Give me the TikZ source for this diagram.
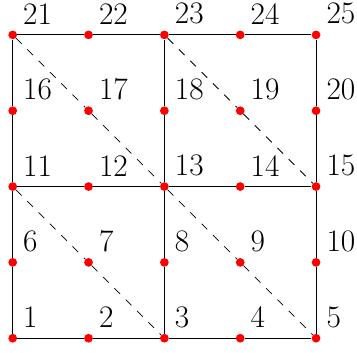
\documentclass[tikz,border=0pt]{standalone}
\begin{document}
\begin{tikzpicture}[x=2cm,y=2cm,
  dot/.style={circle, fill=red, inner sep=0pt, minimum size=0.23cm},
  num/.style={anchor=south west, inner sep=0.27cm, font=\fontsize{23.5}{28}\selectfont},
  edge/.style={line width=0.8pt},
  diag/.style={line width=0.6pt, dash pattern=on 6pt off 6pt}]
  \useasboundingbox (-0.335cm,-0.37cm) rectangle (9.08cm,8.92cm);
  % grid points, numbered row by row from the bottom
  \foreach \r in {0,...,4}
    \foreach \c in {0,...,4} {
      \pgfmathtruncatemacro\k{5*\r+\c+1}
      \node[dot] (p\k) at (\c,\r) {};
      \node[num] (n\k) at (p\k.center) {\k};
    }
  % horizontal edges
  \draw[edge] (p1) -- (p2) -- (p3) -- (p4) -- (p5);
  \draw[edge] (p11) -- (p12) -- (p13) -- (p14) -- (p15);
  \draw[edge] (p21) -- (p22) -- (p23) -- (p24) -- (p25);
  % vertical edges
  \draw[edge] (p1) -- (p6) -- (p11) -- (p16) -- (p21);
  \draw[edge] (p3) -- (p8) -- (p13) -- (p18) -- (p23);
  \draw[edge] (p5) -- (p10) -- (p15) -- (p20) -- (p25);
  % diagonals
  \draw[diag] (p21) -- (p17) -- (p13) -- (p9) -- (p5);
  \draw[diag] (p23) -- (p19) -- (p15);
  \draw[diag] (p11) -- (p7) -- (p3);
\end{tikzpicture}
\end{document}
